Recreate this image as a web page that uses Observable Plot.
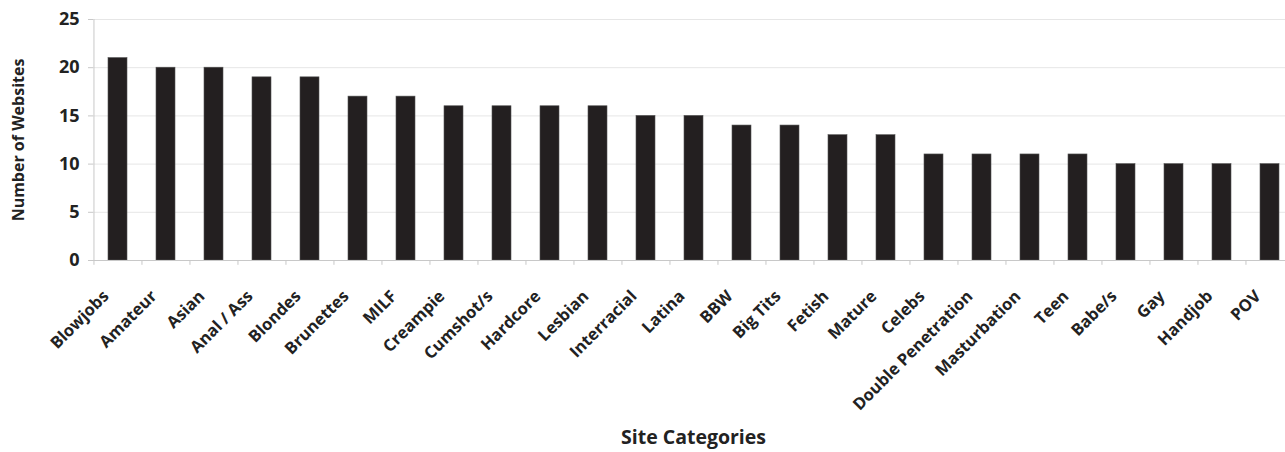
<!DOCTYPE html>
<html>
<head>
<meta charset="utf-8">
<script src="https://cdn.jsdelivr.net/npm/d3@7"></script>
<script src="https://cdn.jsdelivr.net/npm/@observablehq/plot@0.6"></script>
<style>
  html, body { margin: 0; padding: 0; background: #fff; }
  svg { overflow: visible; }
</style>
</head>
<body>
<div id="chart"></div>
<script>
const categories = ["Blowjobs","Amateur","Asian","Anal / Ass","Blondes","Brunettes","MILF","Creampie","Cumshot/s","Hardcore","Lesbian","Interracial","Latina","BBW","Big Tits","Fetish","Mature","Celebs","Double Penetration","Masturbation","Teen","Babe/s","Gay","Handjob","POV"];
const counts = [21,20,20,19,19,17,17,16,16,16,16,15,15,14,14,13,13,11,11,11,11,10,10,10,10];
const yTicks = [0,5,10,15,20,25];
const xTitle = "Site Categories";
const yTitle = "Number of Websites";

const data = categories.map((c, i) => ({category: c, count: counts[i]}));

const W = 1285, H = 452;
const x0 = 93, x1 = 1295;
const step = (x1 - x0) / categories.length;
const font = "'Open Sans', 'Noto Sans', sans-serif";

const chart = Plot.plot({
  width: W,
  height: H,
  marginLeft: x0,
  marginRight: 0,
  marginTop: 19,
  marginBottom: H - 260,
  style: {fontFamily: font, background: "#fff"},
  x: {type: "band", domain: categories, range: [x0, x1], paddingInner: 0.6, paddingOuter: 0.3, align: 0.5},
  y: {domain: [0, 25], range: [260, 19]},
  marks: [
    Plot.gridY(yTicks, {stroke: "#e6e6e6", strokeOpacity: 1}),
    Plot.axisY({ticks: yTicks, tickSize: 5, tickPadding: 9, stroke: "#c8c8c8", fontSize: 18, fontWeight: "bold", fill: "#222", label: null}),
    Plot.barY(data, {x: "category", y: "count", fill: "#231f20", stroke: "#555", strokeWidth: 0.6}),
    Plot.ruleY([0], {stroke: "#c8c8c8"}),
    Plot.ruleX([categories[0]], {x: d => d, y1: 0, y2: 25, dx: -step / 2, stroke: "#c8c8c8"}),
    Plot.ruleX(categories, {x: d => d, y1: 0, y2: -0.5, dx: -step / 2, stroke: "#c8c8c8"}),
    Plot.axisX({ticks: [], label: null, tickSize: 0}),
    Plot.text(categories, {x: d => d, y: 0, text: d => d, rotate: -45, textAnchor: "end", dx: -12, dy: 33, fontSize: 16.5, fontWeight: "bold", fill: "#222"}),
    Plot.text([xTitle], {frameAnchor: "bottom", dx: 4, dy: 183, fontSize: 19.5, fontWeight: "bold", fill: "#222"}),
    Plot.text([yTitle], {frameAnchor: "left", textAnchor: "middle", rotate: -90, dx: -75, fontSize: 16, fontWeight: "bold", fill: "#222"})
  ]
});
document.getElementById("chart").appendChild(chart);
</script>
</body>
</html>
